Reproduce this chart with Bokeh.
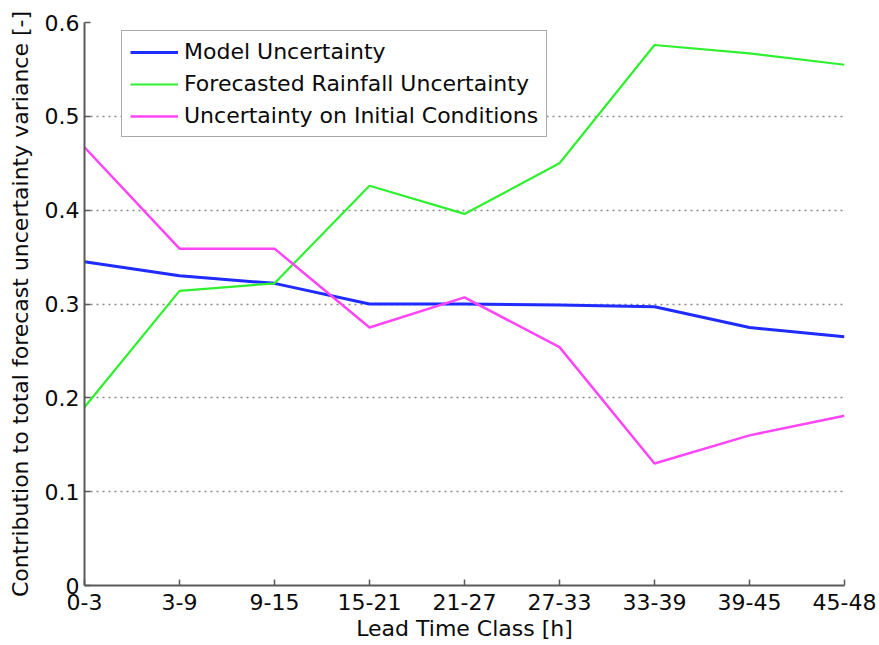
from bokeh.plotting import figure
from bokeh.models import Range1d, FixedTicker, Legend, LegendItem
from bokeh.embed import file_html
from bokeh.resources import INLINE

# Lead time classes and contribution of each uncertainty source
lead_classes = ["0-3", "3-9", "9-15", "15-21", "21-27", "27-33", "33-39", "39-45", "45-48"]
model_unc = [0.345, 0.330, 0.322, 0.300, 0.300, 0.299, 0.297, 0.275, 0.265]
rain_unc = [0.190, 0.314, 0.322, 0.426, 0.396, 0.450, 0.576, 0.567, 0.555]
init_unc = [0.467, 0.359, 0.359, 0.275, 0.307, 0.254, 0.130, 0.160, 0.181]
y_ticks = [0, 0.1, 0.2, 0.3, 0.4, 0.5, 0.6]

xs = list(range(len(lead_classes)))
FONT = "DejaVu Sans"
FSIZE = "22px"

p = figure(width=879, height=645, output_backend="svg", toolbar_location=None,
           x_range=Range1d(0, len(lead_classes) - 1), y_range=Range1d(0, 0.6),
           min_border_left=84, min_border_right=35, min_border_top=22, min_border_bottom=60)
p.outline_line_color = None
p.background_fill_color = "white"
p.border_fill_color = "white"

# axes
p.xaxis.ticker = FixedTicker(ticks=xs)
p.xaxis.major_label_overrides = {i: lab for i, lab in enumerate(lead_classes)}
p.yaxis.ticker = FixedTicker(ticks=y_ticks)
p.yaxis.major_label_overrides = {0: "0", 0.1: "0.1", 0.2: "0.2", 0.3: "0.3",
                                 0.4: "0.4", 0.5: "0.5", 0.6: "0.6"}
p.xaxis.axis_label = "Lead Time Class [h]"
p.yaxis.axis_label = "Contribution to total forecast uncertainty variance [-]"
for ax in (p.xaxis, p.yaxis):
    ax.axis_line_color = "#5a5a5a"
    ax.axis_line_width = 2
    ax.major_tick_line_color = "#5a5a5a"
    ax.major_tick_line_width = 1.5
    ax.major_tick_in = 6
    ax.major_tick_out = 0
    ax.minor_tick_line_color = None
    ax.major_label_text_font = FONT
    ax.major_label_text_font_size = FSIZE
    ax.major_label_text_color = "#0a0a0a"
    ax.axis_label_text_font = FONT
    ax.axis_label_text_font_size = FSIZE
    ax.axis_label_text_font_style = "normal"
    ax.axis_label_text_color = "#0a0a0a"
p.xaxis.major_label_standoff = 8
p.xaxis.axis_label_standoff = 3
p.yaxis.major_label_standoff = 5
p.yaxis.axis_label_standoff = 9

# dotted horizontal grid only
p.xgrid.grid_line_color = None
p.ygrid.grid_line_color = "#8a8a8a"
p.ygrid.grid_line_dash = "2 4"
p.ygrid.grid_line_width = 1.5

r_model = p.line(xs, model_unc, line_color="#1f2bff", line_width=3)
r_rain = p.line(xs, rain_unc, line_color="#2ef02e", line_width=2.2)
r_init = p.line(xs, init_unc, line_color="#ff45f5", line_width=2.5)

legend = Legend(items=[
    LegendItem(label="Model Uncertainty", renderers=[r_model]),
    LegendItem(label="Forecasted Rainfall Uncertainty", renderers=[r_rain]),
    LegendItem(label="Uncertainty on Initial Conditions", renderers=[r_init]),
], location=(37, 448))
legend.label_text_font = FONT
legend.label_text_font_size = FSIZE
legend.label_text_color = "#0a0a0a"
legend.glyph_width = 48
legend.glyph_height = 20
legend.label_height = 25
legend.label_standoff = 6
legend.spacing = 7
legend.padding = 8
legend.margin = 0
legend.border_line_color = "#555555"
legend.border_line_width = 1.5
legend.background_fill_color = "white"
legend.background_fill_alpha = 1
p.add_layout(legend, "center")

open("out.html", "w").write(file_html(p, INLINE))
